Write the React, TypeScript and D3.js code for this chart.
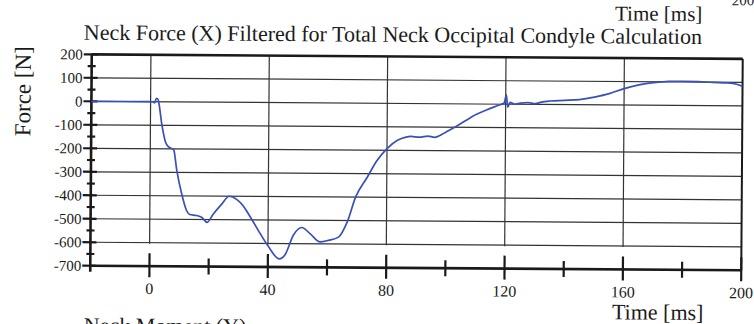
import React from 'react';
import * as d3 from 'd3';

const TIME_MS = [-20, 0, 0.8, 1.3, 2, 2.5, 3.9, 5.1, 6.2, 7.9, 9, 10.7, 12.4, 13.5, 15.8, 17.5, 19.4, 21.4, 24.2, 26.8, 29.3, 31.5, 33.5, 37.3, 40.1, 43.8, 45.8, 48.6, 51.4, 54.2, 57.6, 60.4, 63.8, 66.7, 69.5, 73.4, 76.6, 80, 83.5, 86.4, 88, 91, 93.8, 96, 99.4, 102.8, 106, 110, 113.5, 117.5, 119.5, 120.2, 120.7, 121.5, 123, 125, 127.5, 130, 132, 135, 140, 145, 150, 155, 160, 165, 170, 175, 180, 185, 190, 195, 198, 200];
const FORCE_N = [0, 0, 0, -5, 15, 10, -100, -170, -192, -203, -290, -390, -462, -479, -483, -490, -512, -477, -435, -400, -413, -440, -478, -557, -612, -665, -647, -563, -531, -557, -592, -585, -571, -507, -400, -315, -245, -193, -157, -143, -140, -143, -138, -143, -124, -100, -75, -45, -25, -5, 5, 40, -12, 8, 0, 5, 8, 3, 10, 15, 18, 22, 33, 48, 70, 86, 96, 102, 103, 102, 99, 97, 92, 83];

const X_TICKS = [0, 40, 80, 120, 160, 200];
const X_MINOR = [20, 60, 100, 140, 180];
const X_GRID = [0, 40, 80, 120, 160];
const Y_TICKS = [200, 100, 0, -100, -200, -300, -400, -500, -600, -700];
const Y_MINOR = [150, 50, -50, -150, -250, -350, -450, -550, -650];
const Y_GRID = [100, 0, -100, -200, -300, -400, -500, -600];

const TITLE = 'Neck Force (X) Filtered for Total Neck Occipital Condyle Calculation';
const X_LABEL = 'Time [ms]';
const Y_LABEL = 'Force [N]';
const NEXT_TITLE = 'Neck Moment (Y)';
const PREV_TICK = '200';

export default function App() {
  const W = 754;
  const H = 324;
  const x = d3.scaleLinear().domain([-20, 200]).range([91, 742]);
  const y = d3.scaleLinear().domain([-700, 200]).range([268, 56.6]);
  const pts: [number, number][] = TIME_MS.map((t, i) => [t, FORCE_N[i]]);
  const line = d3
    .line<[number, number]>()
    .x((d) => x(d[0]))
    .y((d) => y(d[1]))
    .curve(d3.curveMonotoneX);
  const x0 = x(-20);
  const x1 = x(200);
  const yTop = y(200);
  const yBot = y(-700);
  const font = "'Liberation Serif', 'Times New Roman', serif";
  const ink = '#1a1a1a';

  return (
    <svg
      width={W}
      height={H}
      viewBox={`0 0 ${W} ${H}`}
      style={{ position: 'absolute', left: 0, top: 0, background: '#fff' }}
    >
      <rect x={0} y={0} width={W} height={H} fill="#fff" />
      <g transform="rotate(0.4, 416, 162)" fontFamily={font} fill={ink}>
        <text x={742} y={3} fontSize={15} textAnchor="middle">{PREV_TICK}</text>
        <text x={614} y={19} fontSize={21}>{X_LABEL}</text>
        <text x={392} y={42} fontSize={22} textAnchor="middle">{TITLE}</text>

        {/* grid */}
        {Y_GRID.map((v) => (
          <line key={'hg' + v} x1={x0} x2={x1} y1={y(v)} y2={y(v)} stroke="#333" strokeWidth={1.2} />
        ))}
        {X_GRID.map((t) => (
          <line key={'vg' + t} x1={x(t)} x2={x(t)} y1={yTop} y2={y(-600) + 1} stroke="#333" strokeWidth={1.2} />
        ))}

        {/* frame */}
        <line x1={x0} x2={x1} y1={yTop} y2={yTop} stroke={ink} strokeWidth={2.6} />
        <line x1={x1} x2={x1} y1={yTop} y2={yBot} stroke={ink} strokeWidth={2} />
        <line x1={x0} x2={x1} y1={yBot} y2={yBot} stroke={ink} strokeWidth={2.6} />
        <line x1={x0} x2={x0} y1={yTop} y2={yBot + 6} stroke={ink} strokeWidth={2.6} />

        {/* y ticks */}
        {Y_TICKS.map((v) => (
          <g key={'yt' + v}>
            <line x1={x0 - 8} x2={x0 + 6} y1={y(v)} y2={y(v)} stroke={ink} strokeWidth={2.2} />
            <text x={x0 - 9} y={y(v)} dy="0.35em" fontSize={15} textAnchor="end">{v}</text>
          </g>
        ))}
        {Y_MINOR.map((v) => (
          <line key={'ym' + v} x1={x0 - 4} x2={x0 + 4} y1={y(v)} y2={y(v)} stroke={ink} strokeWidth={2.2} />
        ))}

        {/* x ticks */}
        {X_TICKS.map((t) => (
          <g key={'xt' + t}>
            <line x1={x(t)} x2={x(t)} y1={yBot - 13} y2={yBot + 11} stroke={ink} strokeWidth={2.2} />
            <text x={x(t)} y={yBot + 28} fontSize={16} textAnchor="middle">{t}</text>
          </g>
        ))}
        {X_MINOR.map((t) => (
          <line key={'xm' + t} x1={x(t)} x2={x(t)} y1={yBot - 8} y2={yBot + 8} stroke={ink} strokeWidth={2.2} />
        ))}

        <text x={613} y={318} fontSize={22}>{X_LABEL}</text>
        <text
          transform={`translate(30, 94) rotate(-90)`}
          fontSize={23}
          textAnchor="middle"
        >
          {Y_LABEL}
        </text>
        <text x={85} y={335} fontSize={22}>{NEXT_TITLE}</text>

        <path d={line(pts) ?? ''} fill="none" stroke="#3b4fb8" strokeWidth={1.7} strokeLinejoin="round" />
      </g>
    </svg>
  );
}
